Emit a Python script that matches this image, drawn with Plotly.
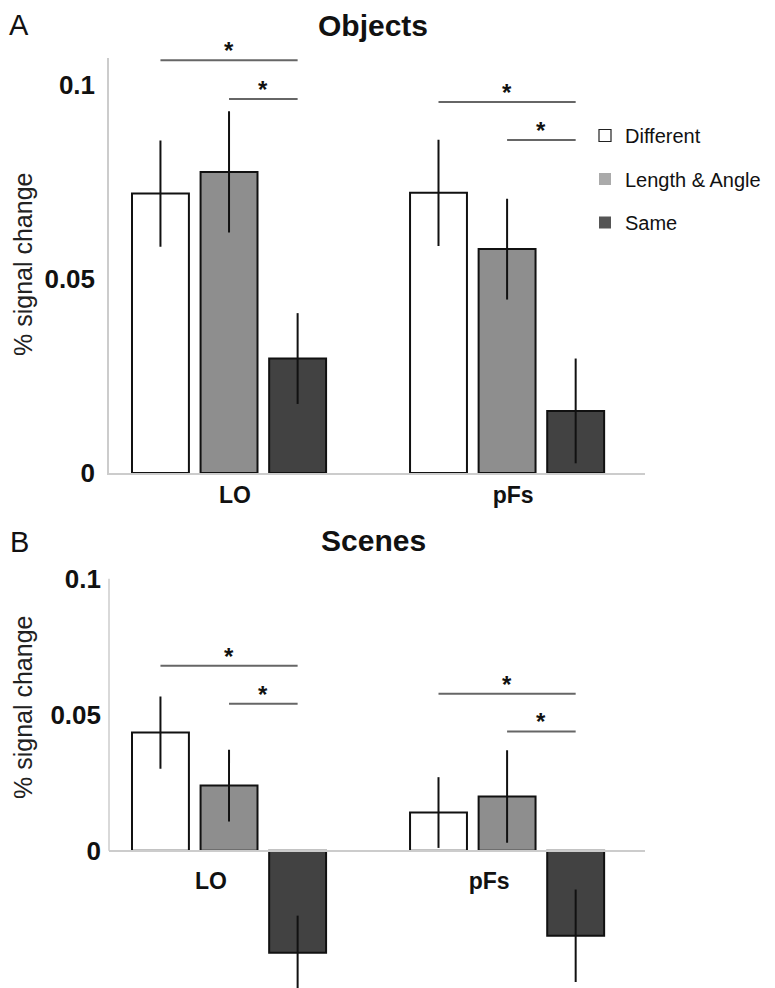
import plotly.graph_objects as go

# ---------------- data ----------------
regions = ["LO", "pFs"]
series_names = ["Different", "Length & Angle", "Same"]

objects_different = [0.0720, 0.0722]
objects_different_err = [0.0137, 0.0137]
objects_length_angle = [0.0776, 0.0577]
objects_length_angle_err = [0.0156, 0.0130]
objects_same = [0.0295, 0.0160]
objects_same_err = [0.0117, 0.0135]

scenes_different = [0.0434, 0.0140]
scenes_different_err = [0.0133, 0.0130]
scenes_length_angle = [0.0239, 0.0199]
scenes_length_angle_err = [0.0132, 0.0170]
scenes_same = [-0.0375, -0.0313]
scenes_same_err = [0.0136, 0.0170]

# significance brackets: (region index, from series, to series, height)
objects_sig = [(0, 0, 2, 0.1064), (0, 1, 2, 0.0964), (1, 0, 2, 0.0956), (1, 1, 2, 0.0858)]
scenes_sig = [(0, 0, 2, 0.0680), (0, 1, 2, 0.0540), (1, 0, 2, 0.0577), (1, 1, 2, 0.0438)]

y_tickvals = [0, 0.05, 0.1]
y_ticktext = ["0", "0.05", "0.1"]

# ---------------- style ----------------
OFF = 8                      # page body margin offset
W, H = 775 - OFF, 988 - OFF


def px(xr):
    return (xr - OFF) / W


def py(yr):
    return 1 - (yr - OFF) / H


fills = ["#ffffff", "#8e8e8e", "#424242"]
legend_fills = ["#ffffff", "#aaaaaa", "#555555"]
FONT = "Liberation Sans, Arial, sans-serif"
BARGAP = 0.26
BARGROUPGAP = 0.17
slot = (1 - BARGAP) / 3
xpos = list(range(len(regions)))

x_dom = [px(109), px(645)]
x_rng = [-0.4317, 1.496]
yA_dom = [py(473), py(57.8)]
yA_rng = [0, 0.107]
yB_dom = [0, py(578.6)]
yB_rng = [-0.0505, 0.1]

fig = go.Figure()

panels = [
    ("x", "y", [objects_different, objects_length_angle, objects_same],
     [objects_different_err, objects_length_angle_err, objects_same_err], objects_sig),
    ("x2", "y2", [scenes_different, scenes_length_angle, scenes_same],
     [scenes_different_err, scenes_length_angle_err, scenes_same_err], scenes_sig),
]

for xa, ya, vals, errs, sigs in panels:
    for i, name in enumerate(series_names):
        fig.add_trace(go.Bar(
            x=xpos, y=vals[i], name=name, xaxis=xa, yaxis=ya,
            marker=dict(color=fills[i], line=dict(color="#111111", width=2)),
            error_y=dict(type="data", array=errs[i], color="#111111", thickness=2, width=0),
            showlegend=False, offsetgroup=str(i),
        ))
    for (r, a, b, h) in sigs:
        x0 = xpos[r] + (a - 1) * slot
        x1 = xpos[r] + (b - 1) * slot
        fig.add_trace(go.Scatter(
            x=[x0, x1], y=[h, h], mode="lines", xaxis=xa, yaxis=ya,
            line=dict(color="#666666", width=2), showlegend=False, hoverinfo="skip",
        ))
        fig.add_annotation(
            x=(x0 + x1) / 2, y=h, xref=xa, yref=ya, text="<b>*</b>", showarrow=False,
            yanchor="bottom", yshift=-6, font=dict(family=FONT, size=24, color="#111111"),
        )

# legend-only entries
for i, name in enumerate(series_names):
    fig.add_trace(go.Scatter(
        x=[None], y=[None], mode="markers", name=name, legendgroup=f"g{i}",
        marker=dict(symbol="square", size=12, color=legend_fills[i],
                    line=dict(color="#222222", width=1.2 if i == 0 else 0)),
    ))

fig.update_layout(
    width=W, height=H,
    margin=dict(l=0, r=0, t=0, b=0, autoexpand=False),
    paper_bgcolor="white", plot_bgcolor="white",
    barmode="group", bargap=BARGAP, bargroupgap=BARGROUPGAP,
    font=dict(family=FONT, color="#111111"),
    showlegend=True,
    legend=dict(x=px(585), y=py(116), xanchor="left", yanchor="top",
                font=dict(family=FONT, size=20, color="#111111"),
                tracegroupgap=14.5, bgcolor="rgba(0,0,0,0)", itemwidth=30),
    xaxis=dict(domain=x_dom, range=x_rng, anchor="y", showgrid=False, zeroline=False,
               showline=True, linecolor="#cccccc", linewidth=2, ticks="", automargin=False,
               tickvals=xpos, ticktext=regions, ticklabelshift=6, ticklabelstandoff=0,
               tickfont=dict(family=FONT, size=23, weight="bold")),
    yaxis=dict(domain=yA_dom, range=yA_rng, showgrid=False, zeroline=False,
               showline=True, linecolor="#cccccc", linewidth=1.5, ticks="", automargin=False,
               tickvals=y_tickvals, ticktext=y_ticktext, ticklabelstandoff=7,
               tickfont=dict(family=FONT, size=26, weight="bold")),
    xaxis2=dict(domain=x_dom, range=x_rng, anchor="free", position=py(850.6),
                showgrid=False, zeroline=False, automargin=False,
                showline=True, linecolor="#cccccc", linewidth=2, ticks="",
                tickvals=xpos, ticktext=regions, ticklabelshift=-18, ticklabelstandoff=10,
                tickfont=dict(family=FONT, size=23, weight="bold")),
    yaxis2=dict(domain=yB_dom, range=yB_rng, anchor="x2", showgrid=False, zeroline=False,
                showline=False, ticks="", automargin=False,
                tickvals=y_tickvals, ticktext=y_ticktext, ticklabelstandoff=7,
                tickfont=dict(family=FONT, size=26, weight="bold")),
)

# y-axis line of panel B only spans 0 .. 0.1
fig.add_shape(type="line", xref="x2 domain", yref="y2", x0=0, x1=0, y0=0, y1=0.1,
              line=dict(color="#cccccc", width=1.5))

# titles, panel letters, y titles
fig.add_annotation(x=px(373), y=1, xref="paper", yref="paper", text="<b>Objects</b>",
                   showarrow=False, xanchor="center", yanchor="top", borderpad=0,
                   font=dict(family=FONT, size=30, color="#111111"))
fig.add_annotation(x=px(373), y=py(540), xref="paper", yref="paper", text="<b>Scenes</b>",
                   showarrow=False, xanchor="center", yanchor="middle",
                   font=dict(family=FONT, size=30, color="#111111"))
fig.add_annotation(x=0, y=1, xref="paper", yref="paper", text="A",
                   showarrow=False, xanchor="left", yanchor="top", borderpad=0,
                   font=dict(family=FONT, size=29, color="#111111"))
fig.add_annotation(x=0, y=py(542), xref="paper", yref="paper", text="B",
                   showarrow=False, xanchor="left", yanchor="middle",
                   font=dict(family=FONT, size=29, color="#111111"))
for ypx in [265, 708]:
    fig.add_annotation(x=0, y=py(ypx), xref="paper", yref="paper", text="% signal change",
                       showarrow=False, textangle=-90, xanchor="left", yanchor="middle",
                       borderpad=0, font=dict(family=FONT, size=25, color="#222222"))

fig.write_html("out.html")
